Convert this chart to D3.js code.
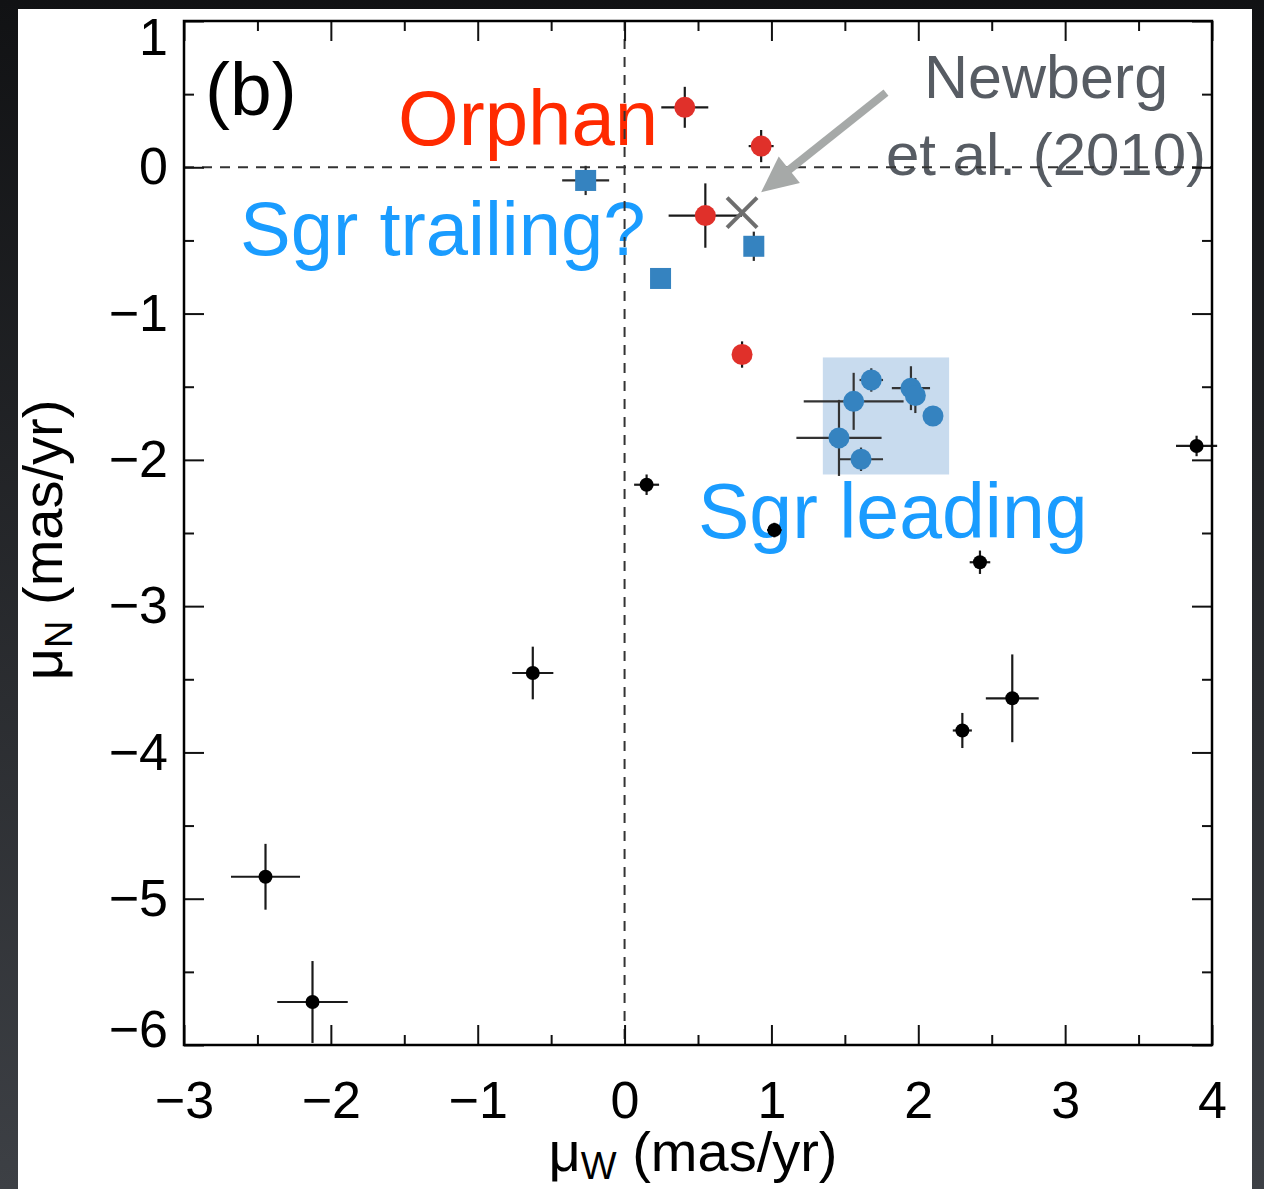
<!DOCTYPE html>
<html>
<head>
<meta charset="utf-8">
<script src="https://cdn.jsdelivr.net/npm/d3@7"></script>
<style>
  body { margin: 0; background: #1b1c1f; }
  text { font-family: "Liberation Sans", Arial, Helvetica, sans-serif; }
</style>
</head>
<body>
<div id="chart"></div>
<script>
// values (mas/yr)
var xTicks = [-3, -2, -1, 0, 1, 2, 3, 4];
var yTicks = [1, 0, -1, -2, -3, -4, -5, -6];
var xMinor = [-2.5, -1.5, -0.5, 0.5, 1.5, 2.5, 3.5];
var yMinor = [0.5, -0.5, -1.5, -2.5, -3.5, -4.5, -5.5];

// field stars (black)
var fieldX    = [3.895, 0.15, 1.02, 2.42, 2.64, 2.30, -0.625, -2.445, -2.125];
var fieldY    = [-1.905, -2.17, -2.48, -2.70, -3.63, -3.85, -3.457, -4.85, -5.706];
var fieldXErr = [0.14, 0.085, 0.05, 0.07, 0.18, 0.065, 0.14, 0.235, 0.24];
var fieldYErr = [0.07, 0.07, 0.05, 0.08, 0.30, 0.12, 0.18, 0.225, 0.28];

// Orphan stream (red)
var orphanX    = [0.41, 0.93, 0.55, 0.80];
var orphanY    = [0.41, 0.145, -0.33, -1.28];
var orphanXErr = [0.16, 0.085, 0.25, 0.03];
var orphanYErr = [0.14, 0.11, 0.22, 0.09];

// Sgr trailing? (blue squares)
var trailX    = [-0.265, 0.88, 0.245];
var trailY    = [-0.09, -0.54, -0.76];
var trailXErr = [0.16, 0.04, 0.03];
var trailYErr = [0.10, 0.10, 0.04];

// Sgr leading (blue circles)
var leadX    = [1.68, 1.56, 1.95, 1.98, 2.10, 1.46, 1.61];
var leadY    = [-1.454, -1.60, -1.51, -1.56, -1.70, -1.85, -1.996];
var leadXErr = [0.08, 0.34, 0.13, 0.04, 0.03, 0.29, 0.15];
var leadYErr = [0.08, 0.195, 0.15, 0.12, 0.04, 0.26, 0.08];

// Newberg et al. (2010)
var newbergX = [0.80];
var newbergY = [-0.31];

// Sgr leading box
var boxX = [1.35, 2.21];
var boxY = [-1.30, -2.10];

// Set up the chart
var svgWidth = 1264;
var svgHeight = 1189;
var margin = { top: 21, right: 52, bottom: 144, left: 184 };
var width = svgWidth - margin.left - margin.right;
var height = svgHeight - margin.top - margin.bottom;

var svg = d3.select("#chart")
  .append("svg")
  .attr("width", svgWidth)
  .attr("height", svgHeight);

// dark surround + white panel
var grad = svg.append("defs").append("linearGradient")
  .attr("id", "bg").attr("x1", 0).attr("y1", 0).attr("x2", 0).attr("y2", 1);
grad.append("stop").attr("offset", "0%").attr("stop-color", "#111214");
grad.append("stop").attr("offset", "100%").attr("stop-color", "#3d4045");
svg.append("rect").attr("width", svgWidth).attr("height", svgHeight).attr("fill", "url(#bg)");
svg.append("rect").attr("x", 18).attr("y", 9).attr("width", 1234).attr("height", 1180).attr("fill", "#fff");

var chartGroup = svg.append("g")
  .attr("transform", `translate(${margin.left}, ${margin.top})`);

var xScale = d3.scaleLinear().domain([-3, 4]).range([0, width]);
var yScale = d3.scaleLinear().domain([-6, 1]).range([height, 0]);

// shaded box behind Sgr leading
chartGroup.append("rect")
  .attr("x", xScale(boxX[0]))
  .attr("y", yScale(boxY[0]))
  .attr("width", xScale(boxX[1]) - xScale(boxX[0]))
  .attr("height", yScale(boxY[1]) - yScale(boxY[0]))
  .attr("fill", "#c8dbee");

// annotation text
chartGroup.append("text").text("(b)")
  .attr("x", 21).attr("y", 94)
  .attr("font-size", 75).attr("fill", "#000");
chartGroup.append("text").text("Orphan")
  .attr("x", 214).attr("y", 124)
  .attr("font-size", 78).attr("fill", "#ff2a00");
chartGroup.append("text").text("Sgr trailing?")
  .attr("x", 56).attr("y", 234)
  .attr("font-size", 76).attr("fill", "#1a9cff");
chartGroup.append("text").text("Sgr leading")
  .attr("x", 514).attr("y", 517)
  .attr("font-size", 77).attr("fill", "#1a9cff");
chartGroup.append("text").text("Newberg")
  .attr("x", 862).attr("y", 77).attr("text-anchor", "middle")
  .attr("font-size", 61).attr("fill", "#575c63");
chartGroup.append("text").text("et al. (2010)")
  .attr("x", 862).attr("y", 154).attr("text-anchor", "middle")
  .attr("font-size", 60).attr("fill", "#575c63");

// zero lines
chartGroup.append("line")
  .attr("x1", xScale(0)).attr("x2", xScale(0))
  .attr("y1", 0).attr("y2", height)
  .attr("stroke", "#333").attr("stroke-width", 2).attr("stroke-dasharray", "10,8");
chartGroup.append("line")
  .attr("x1", 0).attr("x2", width)
  .attr("y1", yScale(0)).attr("y2", yScale(0))
  .attr("stroke", "#333").attr("stroke-width", 2).attr("stroke-dasharray", "10,8");

function toRows(xs, ys, exs, eys) {
  return xs.map((x, i) => ({ x: x, y: ys[i], ex: exs[i], ey: eys[i] }));
}

function errorBars(rows, color) {
  var g = chartGroup.append("g").attr("stroke", color).attr("stroke-width", 2.2);
  g.selectAll(".eh").data(rows).enter().append("line")
    .attr("x1", d => xScale(d.x - d.ex)).attr("x2", d => xScale(d.x + d.ex))
    .attr("y1", d => yScale(d.y)).attr("y2", d => yScale(d.y));
  g.selectAll(".ev").data(rows).enter().append("line")
    .attr("x1", d => xScale(d.x)).attr("x2", d => xScale(d.x))
    .attr("y1", d => yScale(d.y - d.ey)).attr("y2", d => yScale(d.y + d.ey));
}

var fieldRows = toRows(fieldX, fieldY, fieldXErr, fieldYErr);
var orphanRows = toRows(orphanX, orphanY, orphanXErr, orphanYErr);
var trailRows = toRows(trailX, trailY, trailXErr, trailYErr);
var leadRows = toRows(leadX, leadY, leadXErr, leadYErr);

errorBars(fieldRows, "#1a1a1a");
errorBars(orphanRows, "#1a1a1a");
errorBars(trailRows, "#2a2a2a");
errorBars(leadRows, "#333");

// points
chartGroup.append("g").selectAll("circle").data(fieldRows).enter().append("circle")
  .attr("cx", d => xScale(d.x)).attr("cy", d => yScale(d.y))
  .attr("r", 7).attr("fill", "#000");

chartGroup.append("g").selectAll("circle").data(orphanRows).enter().append("circle")
  .attr("cx", d => xScale(d.x)).attr("cy", d => yScale(d.y))
  .attr("r", 10.5).attr("fill", "#e0302a");

chartGroup.append("g").selectAll("rect").data(trailRows).enter().append("rect")
  .attr("x", d => xScale(d.x) - 10.5).attr("y", d => yScale(d.y) - 10.5)
  .attr("width", 21).attr("height", 21).attr("fill", "#3583c0");

chartGroup.append("g").selectAll("circle").data(leadRows).enter().append("circle")
  .attr("cx", d => xScale(d.x)).attr("cy", d => yScale(d.y))
  .attr("r", 10.5).attr("fill", "#3583c0");

// Newberg cross
var cross = chartGroup.append("g").attr("stroke", "#6e6e6e").attr("stroke-width", 4);
newbergX.forEach(function(nx, i) {
  var cx = xScale(nx), cy = yScale(newbergY[i]);
  cross.append("line").attr("x1", cx - 15).attr("y1", cy - 15).attr("x2", cx + 15).attr("y2", cy + 15);
  cross.append("line").attr("x1", cx - 15).attr("y1", cy + 15).attr("x2", cx + 15).attr("y2", cy - 15);
});

// arrow from label to cross
var a0 = [xScale(1.78), yScale(0.51)];
var a1 = [xScale(0.93), yScale(-0.17)];
var dx = a1[0] - a0[0], dy = a1[1] - a0[1];
var len = Math.sqrt(dx * dx + dy * dy);
var ux = dx / len, uy = dy / len;
var headLen = 36, headW = 17;
var base = [a1[0] - ux * headLen, a1[1] - uy * headLen];
chartGroup.append("line")
  .attr("x1", a0[0]).attr("y1", a0[1])
  .attr("x2", base[0] + ux * 2).attr("y2", base[1] + uy * 2)
  .attr("stroke", "#a6a9a8").attr("stroke-width", 8);
chartGroup.append("path")
  .attr("d", `M${a1[0]},${a1[1]} L${base[0] - uy * headW},${base[1] + ux * headW} L${base[0] + uy * headW},${base[1] - ux * headW} Z`)
  .attr("fill", "#a6a9a8");

// axes: ticks point inward on all four sides
function styleAxis(g) {
  g.select(".domain").remove();
  g.selectAll(".tick line").attr("stroke", "#111").attr("stroke-width", 2);
  g.selectAll("text").attr("font-size", 52).attr("fill", "#000")
    .attr("font-family", "'Liberation Sans', Arial, sans-serif");
}

chartGroup.append("g").attr("transform", `translate(0, ${height})`)
  .call(d3.axisBottom(xScale).tickValues(xTicks).tickSizeInner(-20).tickSizeOuter(0).tickPadding(36).tickFormat(d3.format("d")))
  .call(styleAxis);
chartGroup.append("g").attr("transform", `translate(0, ${height})`)
  .call(d3.axisBottom(xScale).tickValues(xMinor).tickSize(-10).tickFormat(""))
  .call(styleAxis);
chartGroup.append("g")
  .call(d3.axisTop(xScale).tickValues(xTicks).tickSize(-20).tickFormat(""))
  .call(styleAxis);
chartGroup.append("g")
  .call(d3.axisTop(xScale).tickValues(xMinor).tickSize(-10).tickFormat(""))
  .call(styleAxis);

var yAxisG = chartGroup.append("g")
  .call(d3.axisLeft(yScale).tickValues(yTicks).tickSizeInner(-20).tickSizeOuter(0).tickPadding(16).tickFormat(d3.format("d")))
  .call(styleAxis);
// end labels sit inside the frame
yAxisG.selectAll(".tick text").attr("y", d => d === 1 ? 17 : d === -6 ? -15 : 0);
chartGroup.append("g")
  .call(d3.axisLeft(yScale).tickValues(yMinor).tickSize(-10).tickFormat(""))
  .call(styleAxis);
chartGroup.append("g").attr("transform", `translate(${width}, 0)`)
  .call(d3.axisRight(yScale).tickValues(yTicks).tickSize(-20).tickFormat(""))
  .call(styleAxis);
chartGroup.append("g").attr("transform", `translate(${width}, 0)`)
  .call(d3.axisRight(yScale).tickValues(yMinor).tickSize(-10).tickFormat(""))
  .call(styleAxis);

// frame
chartGroup.append("rect")
  .attr("width", width).attr("height", height)
  .attr("fill", "none").attr("stroke", "#000").attr("stroke-width", 2.5);

// axis labels
var xLab = chartGroup.append("text")
  .attr("x", width / 2 - 5).attr("y", height + 126)
  .attr("text-anchor", "middle").attr("font-size", 56).attr("fill", "#000");
xLab.append("tspan").text("μ");
xLab.append("tspan").text("W").attr("font-size", 38).attr("dy", 8);
xLab.append("tspan").text(" (mas/yr)").attr("dy", -8);

var yLab = chartGroup.append("text")
  .attr("transform", `translate(-122, ${height / 2 + 7}) rotate(-90)`)
  .attr("text-anchor", "middle").attr("font-size", 56).attr("fill", "#000");
yLab.append("tspan").text("μ");
yLab.append("tspan").text("N").attr("font-size", 38).attr("dy", 10);
yLab.append("tspan").text(" (mas/yr)").attr("dy", -10);
</script>
</body>
</html>
